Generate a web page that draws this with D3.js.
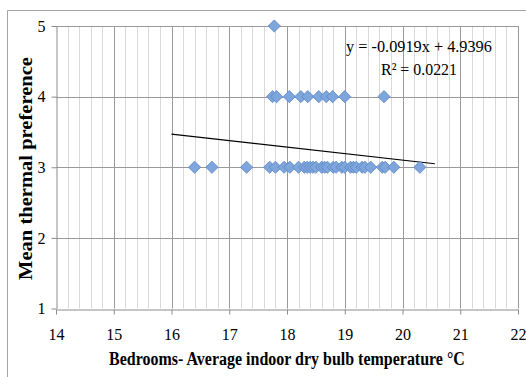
<!DOCTYPE html>
<html><head><meta charset="utf-8">
<script src="https://cdn.jsdelivr.net/npm/d3@7"></script>
<style>html,body{margin:0;padding:0;background:#fff;}svg{display:block;}</style>
</head><body><svg id="c" width="526" height="377"></svg>
<script>
const xTicks = [14,15,16,17,18,19,20,21,22];
const yTicks = [1,2,3,4,5];
const temp5 = [17.78];
const pref5 = [5];
const temp4 = [17.75,17.82,18.04,18.24,18.36,18.55,18.68,18.79,19.0,19.68];
const pref4 = temp4.map(() => 4);
const temp3 = [16.4,16.7,17.3,17.7,17.8,17.95,18.05,18.2,18.3,18.35,18.4,18.45,18.5,18.6,18.65,18.7,18.8,18.85,18.95,19.0,19.1,19.15,19.2,19.3,19.35,19.45,19.65,19.7,19.85,20.3];
const pref3 = temp3.map(() => 3);
const trendX = [16, 20.56];
const slope = -0.0919, intercept = 4.9396;
const eqText = "y = -0.0919x + 4.9396";
const r2Text = "R² = 0.0221";

const points = [];
[[temp5,pref5],[temp4,pref4],[temp3,pref3]].forEach(([t,p]) => t.forEach((v,i)=>points.push({x:v,y:p[i]})));

const svg = d3.select("#c");
const L=56, R=518, T=26, B=308.5;
const x = d3.scaleLinear().domain([14,22]).range([L,R]);
const y = d3.scaleLinear().domain([1,5]).range([B,T]);
const serif = "'Liberation Serif', 'Times New Roman', serif";

// outer chart border (top and left edges visible)
svg.append("path").attr("d","M7.5,377V10.5H526")
  .attr("fill","none").attr("stroke","#a6a6a6").attr("stroke-width",1);

// minor vertical gridlines
const minor = d3.range(14.2,22,0.2).filter(v=>Math.abs(v-Math.round(v))>1e-6);
svg.append("g").selectAll("line").data(minor).join("line")
  .attr("x1",d=>Math.round(x(d))+0.5).attr("x2",d=>Math.round(x(d))+0.5)
  .attr("y1",T).attr("y2",B).attr("stroke","#d9d9d9").attr("stroke-width",1);
// major vertical gridlines
svg.append("g").selectAll("line").data(xTicks.slice(1)).join("line")
  .attr("x1",d=>Math.round(x(d))+0.5).attr("x2",d=>Math.round(x(d))+0.5)
  .attr("y1",T).attr("y2",B).attr("stroke","#9a9a9a").attr("stroke-width",1);
// horizontal gridlines
svg.append("g").selectAll("line").data(yTicks.slice(1)).join("line")
  .attr("x1",L).attr("x2",R).attr("y1",d=>Math.round(y(d))+0.5).attr("y2",d=>Math.round(y(d))+0.5)
  .attr("stroke","#9a9a9a").attr("stroke-width",1);

// axes
const xAxis = svg.append("g").attr("transform",`translate(0,${Math.round(B)+0.5})`)
  .call(d3.axisBottom(x).tickValues(xTicks).tickFormat(d3.format("d")).tickSize(5).tickSizeOuter(0).tickPadding(14));
const yAxis = svg.append("g").attr("transform",`translate(${L+0.5},0)`)
  .call(d3.axisLeft(y).tickValues(yTicks).tickFormat(d3.format("d")).tickSize(5).tickSizeOuter(0).tickPadding(6));
[xAxis,yAxis].forEach(g=>{
  g.attr("font-family",serif).attr("font-size",16);
  g.select(".domain").attr("stroke","#8c8c8c");
  g.selectAll(".tick line").attr("stroke","#8c8c8c");
  g.selectAll("text").style("font-family",serif).style("font-size","16px").attr("fill","#000");
});

// trend line
svg.append("line")
  .attr("x1",x(trendX[0])).attr("y1",y(slope*trendX[0]+intercept))
  .attr("x2",x(trendX[1])).attr("y2",y(slope*trendX[1]+intercept))
  .attr("stroke","#000").attr("stroke-width",1.1);

// points (diamonds)
svg.append("g").selectAll("path").data(points).join("path")
  .attr("d",d3.symbol().type(d3.symbolSquare).size(74))
  .attr("transform",d=>`translate(${x(d.x)},${y(d.y)}) rotate(45)`)
  .attr("fill","#7ea6dc").attr("stroke","#5b88c6").attr("stroke-width",0.8);

// helper: text squeezed horizontally to a target width
function squeezed(tx, ty, rot, txt, size, weight, width) {
  const g = svg.append("g").attr("transform",`translate(${tx},${ty}) rotate(${rot})`);
  const t = g.append("text").attr("text-anchor","middle")
    .style("font-family",serif).attr("font-weight",weight).attr("font-size",size).text(txt);
  const w = t.node().getComputedTextLength();
  if (w > 0) t.attr("transform",`scale(${width/w},1)`);
  return t;
}

// equation
squeezed(419, 52, 0, eqText, 17, "normal", 146);
squeezed(419, 75, 0, r2Text, 17, "normal", 76);

// axis titles
squeezed(287, 365, 0, "Bedrooms- Average indoor dry bulb temperature °C", 19, "bold", 356);
squeezed(32, 168.5, -90, "Mean thermal preference", 18, "bold", 223);
</script></body></html>
